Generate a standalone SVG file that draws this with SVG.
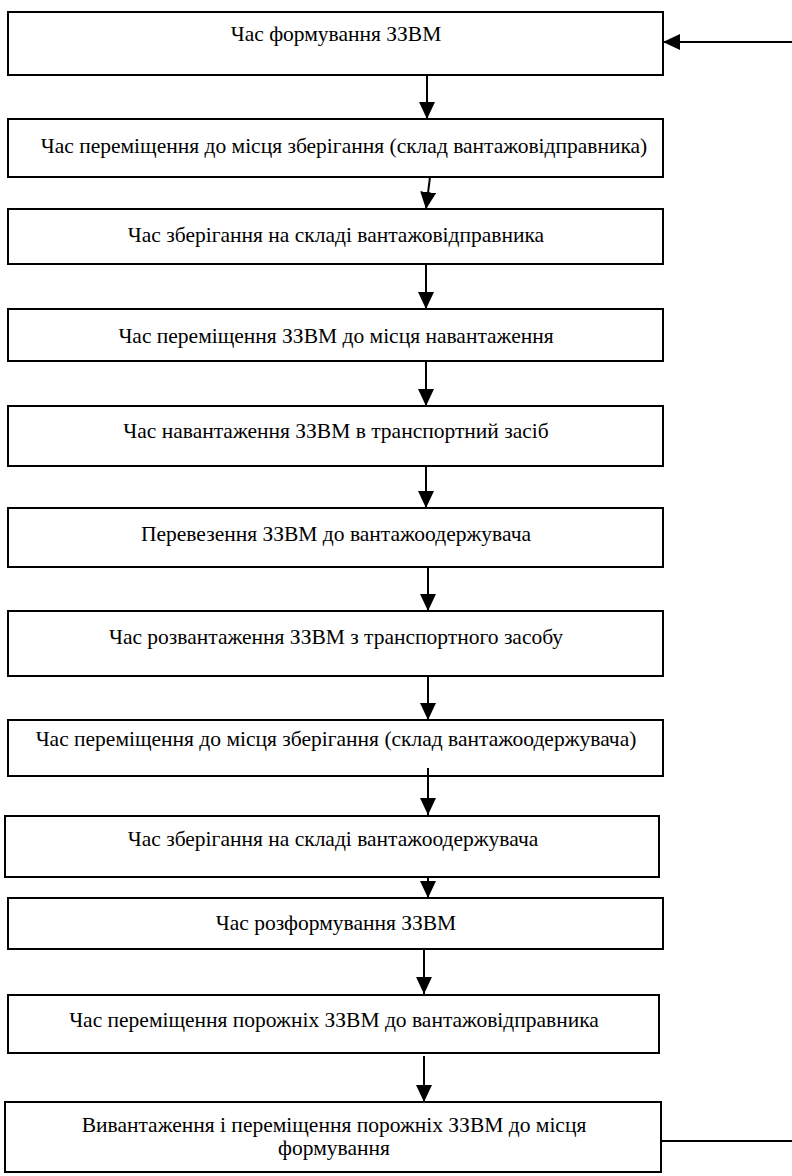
<svg xmlns="http://www.w3.org/2000/svg" width="792" height="1176" viewBox="0 0 792 1176">
<style>
.box{fill:#fff;stroke:#000;stroke-width:2}
.lbl{font-family:"Liberation Serif","Times New Roman",serif;font-size:21.5px;fill:#000;text-anchor:middle}
.con{fill:none;stroke:#000;stroke-width:2}
</style>
<defs>
<marker id="ah" markerUnits="userSpaceOnUse" markerWidth="18" markerHeight="16" refX="17" refY="8" orient="auto">
<path d="M0,0 L17,8 L0,16 Z" fill="#000"/>
</marker>
</defs>
<rect width="792" height="1176" fill="#fff"/>
<g id="n1"><rect class="box" x="8" y="12" width="655" height="63"/><text class="lbl" x="336" y="41">Час формування ЗЗВМ</text></g>
<g id="n2"><rect class="box" x="8" y="119" width="655" height="58"/><text class="lbl" x="344" y="153">Час переміщення до місця зберігання (склад вантажовідправника)</text></g>
<g id="n3"><rect class="box" x="8" y="209" width="655" height="55"/><text class="lbl" x="336" y="242">Час зберігання на складі вантажовідправника</text></g>
<g id="n4"><rect class="box" x="8" y="309" width="655" height="52"/><text class="lbl" x="336" y="343">Час переміщення ЗЗВМ до місця навантаження</text></g>
<g id="n5"><rect class="box" x="8" y="406" width="655" height="60"/><text class="lbl" x="336" y="438">Час навантаження ЗЗВМ в транспортний засіб</text></g>
<g id="n6"><rect class="box" x="8" y="508" width="655" height="59"/><text class="lbl" x="336" y="541">Перевезення ЗЗВМ до вантажоодержувача</text></g>
<g id="n7"><rect class="box" x="8" y="611" width="655" height="65"/><text class="lbl" x="336" y="644">Час розвантаження ЗЗВМ з транспортного засобу</text></g>
<g id="n8"><rect class="box" x="8" y="720" width="655" height="56"/><text class="lbl" x="336" y="746">Час переміщення до місця зберігання (склад вантажоодержувача)</text></g>
<g id="n9"><rect class="box" x="5" y="816" width="654" height="61"/><text class="lbl" x="333" y="846">Час зберігання на складі вантажоодержувача</text></g>
<g id="n10"><rect class="box" x="8" y="898" width="655" height="51"/><text class="lbl" x="336" y="930">Час розформування ЗЗВМ</text></g>
<g id="n11"><rect class="box" x="8" y="995" width="651" height="58"/><text class="lbl" x="334" y="1027">Час переміщення порожніх ЗЗВМ до вантажовідправника</text></g>
<g id="n12"><rect class="box" x="5" y="1102" width="656" height="70"/><text class="lbl" x="334" y="1132">Вивантаження і переміщення порожніх ЗЗВМ до місця</text><text class="lbl" x="334" y="1155">формування</text></g>
<g id="connectors">
<path class="con" marker-end="url(#ah)" d="M427,75 L427,119"/>
<path class="con" marker-end="url(#ah)" d="M430,177 L426,209"/>
<path class="con" marker-end="url(#ah)" d="M426,264 L426,309"/>
<path class="con" marker-end="url(#ah)" d="M426,361 L426,406"/>
<path class="con" marker-end="url(#ah)" d="M426,466 L426,508"/>
<path class="con" marker-end="url(#ah)" d="M428,567 L428,611"/>
<path class="con" marker-end="url(#ah)" d="M428,676 L428,720"/>
<path class="con" marker-end="url(#ah)" d="M428,768 L428,815"/>
<path class="con" marker-end="url(#ah)" d="M428,877 L428,898"/>
<path class="con" marker-end="url(#ah)" d="M424,949 L424,994"/>
<path class="con" marker-end="url(#ah)" d="M424,1056 L424,1102"/>
<path class="con" marker-end="url(#ah)" d="M661,1141 L800,1141 L800,42 L663,42"/>
</g>
</svg>
